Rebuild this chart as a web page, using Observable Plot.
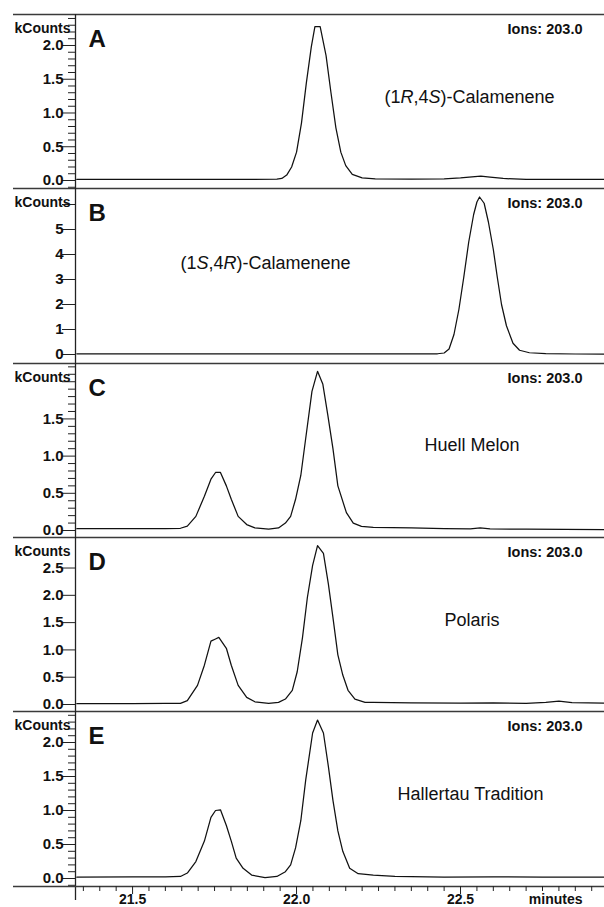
<!DOCTYPE html>
<html>
<head>
<meta charset="utf-8">
<script src="https://cdn.jsdelivr.net/npm/d3@7"></script>
<script src="https://cdn.jsdelivr.net/npm/@observablehq/plot@0.6"></script>
<style>
  body { margin: 0; background: #fff; }
  #chart { position: relative; width: 604px; height: 907px; overflow: hidden; background: #fff; }
  #chart svg { position: absolute; left: 0; }
</style>
</head>
<body>
<div id="chart"></div>
<script>
// ---------- data ----------
const panelLetters = ["A", "B", "C", "D", "E"];
const panelNames = ["(1R,4S)-Calamenene", "(1S,4R)-Calamenene", "Huell Melon", "Polaris", "Hallertau Tradition"];
const ionLabel = "Ions: 203.0";
const yUnitLabel = "kCounts";
const xUnitLabel = "minutes";

const timeA = [21.33, 21.45, 21.60, 21.75, 21.85, 21.94, 21.955, 21.97, 21.985, 22.0, 22.015, 22.03, 22.045, 22.056, 22.072, 22.09, 22.105, 22.12, 22.135, 22.15, 22.17, 22.2, 22.24, 22.35, 22.45, 22.5, 22.535, 22.562, 22.59, 22.63, 22.7, 22.8, 22.939];
const countsA = [0.015, 0.015, 0.015, 0.015, 0.015, 0.02, 0.03, 0.08, 0.2, 0.42, 0.85, 1.45, 1.98, 2.28, 2.28, 1.85, 1.3, 0.78, 0.42, 0.22, 0.09, 0.04, 0.025, 0.02, 0.025, 0.04, 0.055, 0.065, 0.05, 0.03, 0.015, 0.015, 0.015];

const timeB = [21.33, 21.6, 21.9, 22.2, 22.43, 22.45, 22.465, 22.48, 22.495, 22.51, 22.525, 22.54, 22.55, 22.558, 22.572, 22.585, 22.6, 22.612, 22.625, 22.64, 22.66, 22.68, 22.71, 22.76, 22.85, 22.939];
const countsB = [0.03, 0.03, 0.03, 0.03, 0.03, 0.06, 0.22, 0.8, 1.8, 3.1, 4.5, 5.6, 6.1, 6.3, 6.05, 5.3, 4.2, 3.1, 2.0, 1.15, 0.45, 0.17, 0.07, 0.035, 0.02, 0.02];

const timeC = [21.33, 21.5, 21.6, 21.646, 21.667, 21.693, 21.719, 21.739, 21.753, 21.768, 21.786, 21.801, 21.822, 21.848, 21.873, 21.915, 21.945, 21.966, 21.982, 21.997, 22.013, 22.028, 22.047, 22.064, 22.08, 22.095, 22.111, 22.126, 22.152, 22.173, 22.198, 22.234, 22.35, 22.45, 22.53, 22.56, 22.59, 22.7, 22.939];
const countsC = [0.025, 0.025, 0.025, 0.03, 0.06, 0.19, 0.46, 0.69, 0.78, 0.78, 0.6, 0.42, 0.19, 0.08, 0.035, 0.02, 0.035, 0.1, 0.19, 0.42, 0.74, 1.24, 1.87, 2.14, 1.97, 1.56, 1.1, 0.6, 0.24, 0.1, 0.056, 0.043, 0.035, 0.025, 0.022, 0.035, 0.022, 0.018, 0.013];

const timeD = [21.33, 21.5, 21.6, 21.646, 21.667, 21.698, 21.719, 21.739, 21.753, 21.763, 21.786, 21.801, 21.822, 21.848, 21.873, 21.915, 21.945, 21.966, 21.987, 22.002, 22.018, 22.033, 22.049, 22.064, 22.082, 22.097, 22.111, 22.126, 22.141, 22.157, 22.178, 22.209, 22.234, 22.35, 22.5, 22.6, 22.7, 22.76, 22.8, 22.84, 22.939];
const countsD = [0.015, 0.015, 0.02, 0.02, 0.07, 0.35, 0.72, 1.16, 1.2, 1.23, 1.03, 0.72, 0.35, 0.13, 0.05, 0.02, 0.04, 0.1, 0.26, 0.6, 1.22, 1.96, 2.55, 2.91, 2.77, 2.21, 1.59, 0.91, 0.54, 0.26, 0.1, 0.04, 0.04, 0.03, 0.025, 0.03, 0.02, 0.04, 0.06, 0.035, 0.025];

const timeE = [21.33, 21.5, 21.6, 21.646, 21.667, 21.693, 21.719, 21.739, 21.753, 21.768, 21.786, 21.801, 21.816, 21.837, 21.863, 21.904, 21.94, 21.966, 21.982, 21.997, 22.013, 22.028, 22.049, 22.064, 22.082, 22.097, 22.111, 22.126, 22.141, 22.162, 22.188, 22.234, 22.3, 22.45, 22.6, 22.75, 22.939];
const countsE = [0.02, 0.025, 0.025, 0.03, 0.08, 0.25, 0.55, 0.9, 1.0, 1.01, 0.78, 0.55, 0.3, 0.15, 0.05, 0.013, 0.03, 0.1, 0.2, 0.45, 0.85, 1.45, 2.14, 2.33, 2.14, 1.65, 1.15, 0.7, 0.4, 0.15, 0.07, 0.05, 0.03, 0.02, 0.025, 0.02, 0.02];

// y ticks (labelled majors, unlabelled majors, minors)
const yMajorA = [0, 0.5, 1.0, 1.5, 2.0];
const yMinorA = [-0.1, 0.1, 0.2, 0.3, 0.4, 0.6, 0.7, 0.8, 0.9, 1.1, 1.2, 1.3, 1.4, 1.6, 1.7, 1.8, 1.9, 2.1, 2.2, 2.3, 2.4];
const yMajorB = [0, 1, 2, 3, 4, 5];
const yBareB = [6];
const yMajorC = [0, 0.5, 1.0, 1.5];
const yBareC = [2.0];
const yMinorC = [0.1, 0.2, 0.3, 0.4, 0.6, 0.7, 0.8, 0.9, 1.1, 1.2, 1.3, 1.4, 1.6, 1.7, 1.8, 1.9, 2.1, 2.2];
const yMajorD = [0, 0.5, 1.0, 1.5, 2.0, 2.5];
const yMajorE = [0, 0.5, 1.0, 1.5, 2.0];
const yMinorE = [-0.1, 0.1, 0.2, 0.3, 0.4, 0.6, 0.7, 0.8, 0.9, 1.1, 1.2, 1.3, 1.4, 1.6, 1.7, 1.8, 1.9, 2.1, 2.2, 2.3, 2.4];

// x ticks
const xMajorTicks = [21.5, 22.0, 22.5];
const xMinorTicks = [21.35, 21.4, 21.45, 21.55, 21.6, 21.65, 21.7, 21.75, 21.8, 21.85, 21.9, 21.95, 22.05, 22.1, 22.15, 22.2, 22.25, 22.3, 22.35, 22.4, 22.45, 22.55, 22.6, 22.65, 22.7, 22.75, 22.8, 22.85, 22.9];
const xDomain = [21.326, 22.939];

// ---------- layout ----------
const FONT = "'Liberation Sans', Arial, Helvetica, sans-serif";
const panels = [
  {top: 14,  height: 174, yDomain: [-0.1185, 2.459], t: timeA, v: countsA, major: yMajorA, bare: [], minor: yMinorA, fmt: ".1f", nameDx: 309, nameDy: 76},
  {top: 188, height: 175, yDomain: [-0.36, 6.64],    t: timeB, v: countsB, major: yMajorB, bare: yBareB, minor: [], fmt: "d", nameDx: 105, nameDy: 68},
  {top: 363, height: 174, yDomain: [-0.094, 2.245],  t: timeC, v: countsC, major: yMajorC, bare: yBareC, minor: yMinorC, fmt: ".1f", nameDx: 349, nameDy: 75},
  {top: 537, height: 174, yDomain: [-0.128, 3.059],  t: timeD, v: countsD, major: yMajorD, bare: [], minor: [], fmt: ".1f", nameDx: 369, nameDy: 76},
  {top: 711, height: 196, yDomain: [-0.1176, 2.456], t: timeE, v: countsE, major: yMajorE, bare: [], minor: yMinorE, fmt: ".1f", nameDx: 322, nameDy: 76, last: true}
];

const chart = document.getElementById("chart");
const LINE = "#3a3a3a";

panels.forEach((p, i) => {
  const data = p.t.map((t, k) => ({time: t, counts: p.v[k]}));
  const marginBottom = p.last ? 21 : 0;
  const marks = [
    // panel top rule (extends left into the margin)
    Plot.ruleY([p.yDomain[1]], {stroke: LINE, strokeWidth: 1.6, insetLeft: -62}),
    // vertical axis line
    Plot.ruleX([xDomain[0]], {stroke: "#222", strokeWidth: 1.3, insetBottom: p.last ? -14 : 0}),
    // y ticks
    Plot.axisY({ticks: p.minor, tickSize: 7, tickFormat: () => "", label: null, stroke: "#222"}),
    Plot.axisY({ticks: p.bare, tickSize: 13, tickFormat: () => "", label: null, stroke: "#222"}),
    Plot.axisY({ticks: p.major, tickSize: 13, tickPadding: -1, tickFormat: p.fmt, label: null, stroke: "#222",
                fill: "#111", fontSize: 15, fontWeight: "bold", fontFamily: FONT}),
    // chromatogram trace
    Plot.lineY(data, {x: "time", y: "counts", stroke: "#111", strokeWidth: 1.25}),
    // texts
    Plot.text([yUnitLabel], {text: d => d, frameAnchor: "top-left", dx: -5, dy: 14, textAnchor: "end",
               lineAnchor: "middle", fontSize: 14, fontWeight: "bold", fill: "#111", fontFamily: FONT}),
    Plot.text([panelLetters[i]], {text: d => d, frameAnchor: "top-left", dx: 13, dy: 15, textAnchor: "start",
               lineAnchor: "top", fontSize: 24, fontWeight: "bold", fill: "#111", fontFamily: FONT}),
    Plot.text([ionLabel], {text: d => d, frameAnchor: "top-right", dx: -22, dy: 9, textAnchor: "end",
               lineAnchor: "top", fontSize: 14.5, fontWeight: "bold", fill: "#111", fontFamily: FONT}),
    Plot.text([panelNames[i]], {text: d => d, frameAnchor: "top-left", dx: p.nameDx, dy: p.nameDy, textAnchor: "start",
               lineAnchor: "top", fontSize: 18, fill: "#111", fontFamily: FONT})
  ];
  if (p.last) {
    marks.push(
      Plot.ruleY([p.yDomain[0]], {stroke: LINE, strokeWidth: 1.6, insetLeft: -62}),
      Plot.axisX({ticks: xMinorTicks, tickSize: 5, tickFormat: () => "", label: null, stroke: "#222"}),
      Plot.axisX({ticks: xMajorTicks, tickSize: 8, tickPadding: 0, tickFormat: ".1f", label: null, stroke: "#222",
                  fill: "#111", fontSize: 14, fontWeight: "bold", fontFamily: FONT}),
      Plot.text([xUnitLabel], {text: d => d, frameAnchor: "bottom-right", dx: -22, dy: 8, textAnchor: "end",
                 lineAnchor: "top", fontSize: 14, fontWeight: "bold", fill: "#111", fontFamily: FONT})
    );
  }
  const svg = Plot.plot({
    width: 604,
    height: p.height,
    marginLeft: 75,
    marginRight: 0,
    marginTop: 0,
    marginBottom: marginBottom,
    x: {domain: xDomain, axis: p.last ? undefined : null},
    y: {domain: p.yDomain, label: null},
    style: {background: "transparent", overflow: "visible", color: "#222", fontFamily: FONT},
    marks
  });
  svg.style.top = p.top + "px";
  // italic stereo descriptors R / S
  svg.querySelectorAll("text").forEach(el => {
    const m = el.textContent.match(/^\((\d)([RS]),(\d)([RS])\)(.*)$/);
    if (!m) return;
    el.textContent = "";
    [["(" + m[1], false], [m[2], true], ["," + m[3], false], [m[4], true], [")" + m[5], false]].forEach(([s, it]) => {
      const ts = document.createElementNS("http://www.w3.org/2000/svg", "tspan");
      ts.textContent = s;
      if (it) ts.setAttribute("font-style", "italic");
      el.appendChild(ts);
    });
  });
  chart.appendChild(svg);
});
</script>
</body>
</html>
